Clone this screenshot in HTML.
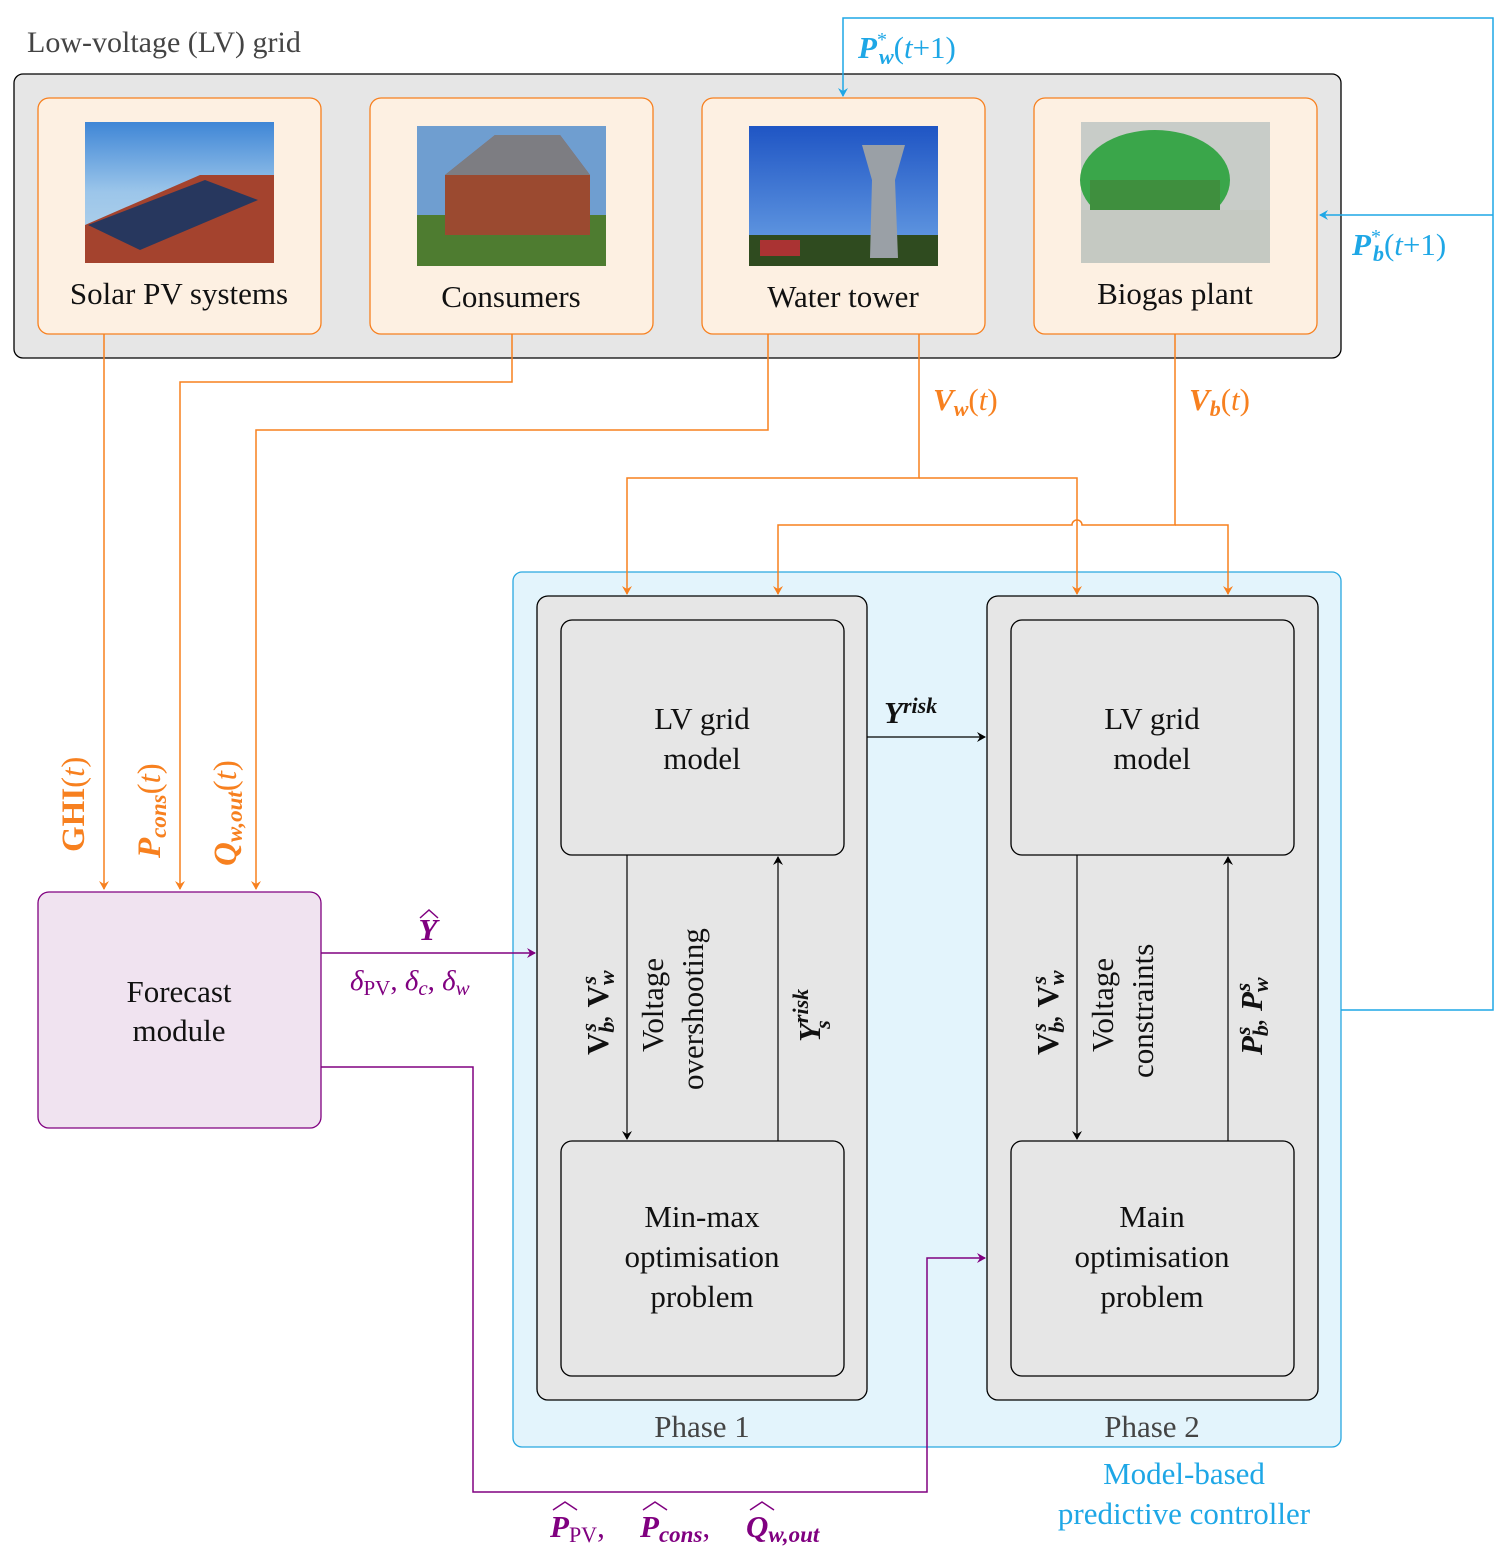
<!DOCTYPE html>
<html><head><meta charset="utf-8"><style>
html,body{margin:0;padding:0;background:#fff}
svg{display:block}
text{font-family:"Liberation Serif",serif}
</style></head><body>
<svg width="1512" height="1554" viewBox="0 0 1512 1554" xmlns="http://www.w3.org/2000/svg">
<defs>
<marker id="ao" markerWidth="10" markerHeight="10" refX="8" refY="5" orient="auto" markerUnits="userSpaceOnUse"><path d="M0,0 L9,5 L0,10 L3,5 Z" fill="#f7801f"/></marker>
<marker id="ab" markerWidth="10" markerHeight="10" refX="8" refY="5" orient="auto" markerUnits="userSpaceOnUse"><path d="M0,0 L9,5 L0,10 L3,5 Z" fill="#1ea7e6"/></marker>
<marker id="ap" markerWidth="10" markerHeight="10" refX="8" refY="5" orient="auto" markerUnits="userSpaceOnUse"><path d="M0,0 L9,5 L0,10 L3,5 Z" fill="#800080"/></marker>
<marker id="ak" markerWidth="10" markerHeight="10" refX="8" refY="5" orient="auto" markerUnits="userSpaceOnUse"><path d="M0,0 L9,5 L0,10 L3,5 Z" fill="#000"/></marker>
<linearGradient id="sky" x1="0" y1="0" x2="0" y2="1"><stop offset="0" stop-color="#3f86d6"/><stop offset="0.5" stop-color="#9cc6ea"/><stop offset="1" stop-color="#b9d5ea"/></linearGradient>
<linearGradient id="sky2" x1="0" y1="0" x2="0" y2="1"><stop offset="0" stop-color="#1f55c4"/><stop offset="1" stop-color="#6da4e6"/></linearGradient>
</defs>

<text x="27" y="52" font-size="30" fill="#444">Low-voltage (LV) grid</text>

<rect x="14" y="74" width="1327" height="284" rx="9" fill="#e6e6e6" stroke="#000" stroke-width="1.3"/>
<g fill="#fdf0e2" stroke="#f7801f" stroke-width="1.3">
<rect x="38" y="98" width="283" height="236" rx="11"/>
<rect x="370" y="98" width="283" height="236" rx="11"/>
<rect x="702" y="98" width="283" height="236" rx="11"/>
<rect x="1034" y="98" width="283" height="236" rx="11"/>
</g>
<!-- images -->
<rect x="85" y="122" width="189" height="141" fill="url(#sky)"/>
<polygon points="85,225 85,263 274,263 274,175 200,175" fill="#a4432e"/>
<polygon points="88,225 205,180 258,200 140,250" fill="#27375e"/>
<rect x="417" y="126" width="189" height="140" fill="#6f9ed0"/>
<rect x="417" y="215" width="189" height="51" fill="#4e7c30"/>
<polygon points="445,175 495,135 560,135 590,175 590,235 445,235" fill="#9b4a30"/>
<polygon points="445,175 495,135 560,135 590,175" fill="#7d7d82"/>
<rect x="749" y="126" width="189" height="140" fill="url(#sky2)"/>
<rect x="749" y="235" width="189" height="31" fill="#2f4b1f"/>
<polygon points="862,145 905,145 895,180 898,258 870,258 872,180" fill="#9aa0a6"/>
<rect x="760" y="240" width="40" height="16" fill="#a33"/>
<rect x="1081" y="122" width="189" height="141" fill="#c8ccc8"/>
<ellipse cx="1155" cy="180" rx="75" ry="50" fill="#3aa64a"/>
<rect x="1090" y="180" width="130" height="30" fill="#3f8f3e"/>
<rect x="1081" y="210" width="189" height="53" fill="#c5c9c2"/>
<g font-size="31" fill="#111" text-anchor="middle">
<text x="179" y="304">Solar PV systems</text>
<text x="511" y="307">Consumers</text>
<text x="843" y="307">Water tower</text>
<text x="1175" y="304">Biogas plant</text>
</g>

<!-- MPC -->
<rect x="513" y="572" width="828" height="875" rx="9" fill="#e3f4fc" stroke="#29a8e0" stroke-width="1.3"/>
<g fill="#e6e6e6" stroke="#000" stroke-width="1.3">
<rect x="537" y="596" width="330" height="804" rx="11"/>
<rect x="987" y="596" width="331" height="804" rx="11"/>
<rect x="561" y="620" width="283" height="235" rx="11"/>
<rect x="561" y="1141" width="283" height="235" rx="11"/>
<rect x="1011" y="620" width="283" height="235" rx="11"/>
<rect x="1011" y="1141" width="283" height="235" rx="11"/>
</g>
<g font-size="31" fill="#111" text-anchor="middle">
<text x="702" y="729">LV grid</text><text x="702" y="769">model</text>
<text x="1152" y="729">LV grid</text><text x="1152" y="769">model</text>
<text x="702" y="1227">Min-max</text><text x="702" y="1267">optimisation</text><text x="702" y="1307">problem</text>
<text x="1152" y="1227">Main</text><text x="1152" y="1267">optimisation</text><text x="1152" y="1307">problem</text>
<text x="702" y="1437" fill="#444">Phase 1</text>
<text x="1152" y="1437" fill="#444">Phase 2</text>
<text x="1184" y="1484" fill="#1ea7e6">Model-based</text>
<text x="1184" y="1524" fill="#1ea7e6">predictive controller</text>
</g>

<!-- forecast -->
<rect x="38" y="892" width="283" height="236" rx="11" fill="#f0e3f0" stroke="#800080" stroke-width="1.3"/>
<g font-size="31" fill="#111" text-anchor="middle">
<text x="179" y="1002">Forecast</text><text x="179" y="1041">module</text>
</g>

<!-- blue feedback -->
<g fill="none" stroke="#1ea7e6" stroke-width="1.5">
<polyline points="1341,1010 1493,1010 1493,18 843,18 843,96" marker-end="url(#ab)"/>
<polyline points="1493,215 1320,215" marker-end="url(#ab)"/>
</g>

<!-- orange lines -->
<g fill="none" stroke="#f7801f" stroke-width="1.5">
<polyline points="104,334 104,889" marker-end="url(#ao)"/>
<polyline points="512,334 512,382 180,382 180,889" marker-end="url(#ao)"/>
<polyline points="768,334 768,430 256,430 256,889" marker-end="url(#ao)"/>
<polyline points="919,334 919,478 627,478 627,594" marker-end="url(#ao)"/>
<polyline points="919,478 1077,478 1077,594" marker-end="url(#ao)"/>
<path d="M1175,334 L1175,525 L1082,525 A5,5 0 0 0 1072,525 L778,525 L778,594" marker-end="url(#ao)"/>
<polyline points="1175,525 1228,525 1228,594" marker-end="url(#ao)"/>
</g>
<g fill="#f7801f" font-size="31">
<text x="933" y="410"><tspan font-weight="bold" font-style="italic">V</tspan><tspan font-weight="bold" font-style="italic" font-size="22" dy="6">w</tspan><tspan dy="-6">(</tspan><tspan font-style="italic">t</tspan>)</text>
<text x="1189" y="410"><tspan font-weight="bold" font-style="italic">V</tspan><tspan font-weight="bold" font-style="italic" font-size="22" dy="6">b</tspan><tspan dy="-6">(</tspan><tspan font-style="italic">t</tspan>)</text>
<text transform="translate(84,852) rotate(-90)" font-size="33"><tspan font-weight="bold">GHI</tspan>(<tspan font-style="italic">t</tspan>)</text>
<text transform="translate(160,858) rotate(-90)" font-size="33"><tspan font-weight="bold" font-style="italic">P</tspan><tspan font-weight="bold" font-style="italic" font-size="23" dy="6">cons</tspan><tspan dy="-6">(</tspan><tspan font-style="italic">t</tspan>)</text>
<text transform="translate(236,866) rotate(-90)" font-size="33"><tspan font-weight="bold" font-style="italic">Q</tspan><tspan font-weight="bold" font-style="italic" font-size="23" dy="6">w,out</tspan><tspan dy="-6">(</tspan><tspan font-style="italic">t</tspan>)</text>
</g>
<g fill="#1ea7e6" font-size="31">
<text x="858" y="58"><tspan font-weight="bold" font-style="italic">P</tspan><tspan font-size="20" dy="-12">*</tspan><tspan font-weight="bold" font-style="italic" font-size="22" dx="-8" dy="18">w</tspan><tspan dy="-6">(</tspan><tspan font-style="italic">t</tspan>+1)</text>
<text x="1352" y="255"><tspan font-weight="bold" font-style="italic">P</tspan><tspan font-size="20" dy="-12">*</tspan><tspan font-weight="bold" font-style="italic" font-size="22" dx="-8" dy="18">b</tspan><tspan dy="-6">(</tspan><tspan font-style="italic">t</tspan>+1)</text>
</g>

<g fill="none" stroke="#000" stroke-width="1.2">
<line x1="627" y1="855" x2="627" y2="1139" marker-end="url(#ak)"/>
<line x1="778" y1="1141" x2="778" y2="857" marker-end="url(#ak)"/>
<line x1="1077" y1="855" x2="1077" y2="1139" marker-end="url(#ak)"/>
<line x1="1228" y1="1141" x2="1228" y2="857" marker-end="url(#ak)"/>
<line x1="867" y1="737" x2="985" y2="737" marker-end="url(#ak)"/>
</g>
<g font-size="31" fill="#111">
<text x="884" y="723" font-weight="bold" font-style="italic">Y<tspan font-size="22" dy="-10">risk</tspan></text>
<text transform="translate(608,1055) rotate(-90)" font-weight="bold">V<tspan font-style="italic" font-size="22" dy="6">b</tspan><tspan font-style="italic" font-size="22" dx="-10" dy="-18">s</tspan><tspan dy="12" font-weight="normal">, </tspan>V<tspan font-style="italic" font-size="22" dy="6">w</tspan><tspan font-style="italic" font-size="22" dx="-14" dy="-18">s</tspan></text>
<text transform="translate(1058,1055) rotate(-90)" font-weight="bold">V<tspan font-style="italic" font-size="22" dy="6">b</tspan><tspan font-style="italic" font-size="22" dx="-10" dy="-18">s</tspan><tspan dy="12" font-weight="normal">, </tspan>V<tspan font-style="italic" font-size="22" dy="6">w</tspan><tspan font-style="italic" font-size="22" dx="-14" dy="-18">s</tspan></text>
<text transform="translate(1262,1055) rotate(-90)" font-weight="bold" font-style="italic">P<tspan font-size="22" dy="6">b</tspan><tspan font-size="22" dx="-10" dy="-18">s</tspan><tspan dy="12" font-weight="normal" font-style="normal">, </tspan>P<tspan font-size="22" dy="6">w</tspan><tspan font-size="22" dx="-14" dy="-18">s</tspan></text>
<text transform="translate(820,1042) rotate(-90)" font-weight="bold" font-style="italic">Y<tspan font-size="22" dy="-12">risk</tspan><tspan font-size="22" dx="-40" dy="22">s</tspan></text>
<text transform="translate(663,1052) rotate(-90)">Voltage</text>
<text transform="translate(703,1090) rotate(-90)">overshooting</text>
<text transform="translate(1113,1052) rotate(-90)">Voltage</text>
<text transform="translate(1153,1078) rotate(-90)">constraints</text>
</g>

<g fill="none" stroke="#800080" stroke-width="1.5">
<line x1="321" y1="953" x2="535" y2="953" marker-end="url(#ap)"/>
<polyline points="321,1067 473,1067 473,1492 927,1492 927,1258 985,1258" marker-end="url(#ap)"/>
</g>
<g fill="#800080" font-size="31">
<text x="428" y="940" text-anchor="middle" font-weight="bold" font-style="italic">Y</text>
<path d="M420,918 L429,910 L438,918" fill="none" stroke="#800080" stroke-width="1.5"/>
<text x="350" y="990" font-size="29"><tspan font-style="italic">δ</tspan><tspan font-size="21" dy="5">PV</tspan><tspan dy="-5">, </tspan><tspan font-style="italic">δ</tspan><tspan font-size="21" font-style="italic" dy="5">c</tspan><tspan dy="-5">, </tspan><tspan font-style="italic">δ</tspan><tspan font-size="21" font-style="italic" dy="5">w</tspan></text>
<text x="550" y="1537"><tspan font-weight="bold" font-style="italic">P</tspan><tspan font-size="22" dy="5">PV</tspan><tspan dy="-5">,</tspan></text>
<text x="640" y="1537"><tspan font-weight="bold" font-style="italic">P</tspan><tspan font-size="23" font-weight="bold" font-style="italic" dy="5">cons</tspan><tspan dy="-5">,</tspan></text>
<text x="746" y="1537"><tspan font-weight="bold" font-style="italic">Q</tspan><tspan font-size="23" font-weight="bold" font-style="italic" dy="5">w,out</tspan></text>
<g fill="none" stroke="#800080" stroke-width="1.5">
<path d="M553,1510 L565,1502 L577,1510"/>
<path d="M643,1510 L655,1502 L667,1510"/>
<path d="M750,1510 L762,1502 L774,1510"/>
</g>
</g>
</svg>
</body></html>
